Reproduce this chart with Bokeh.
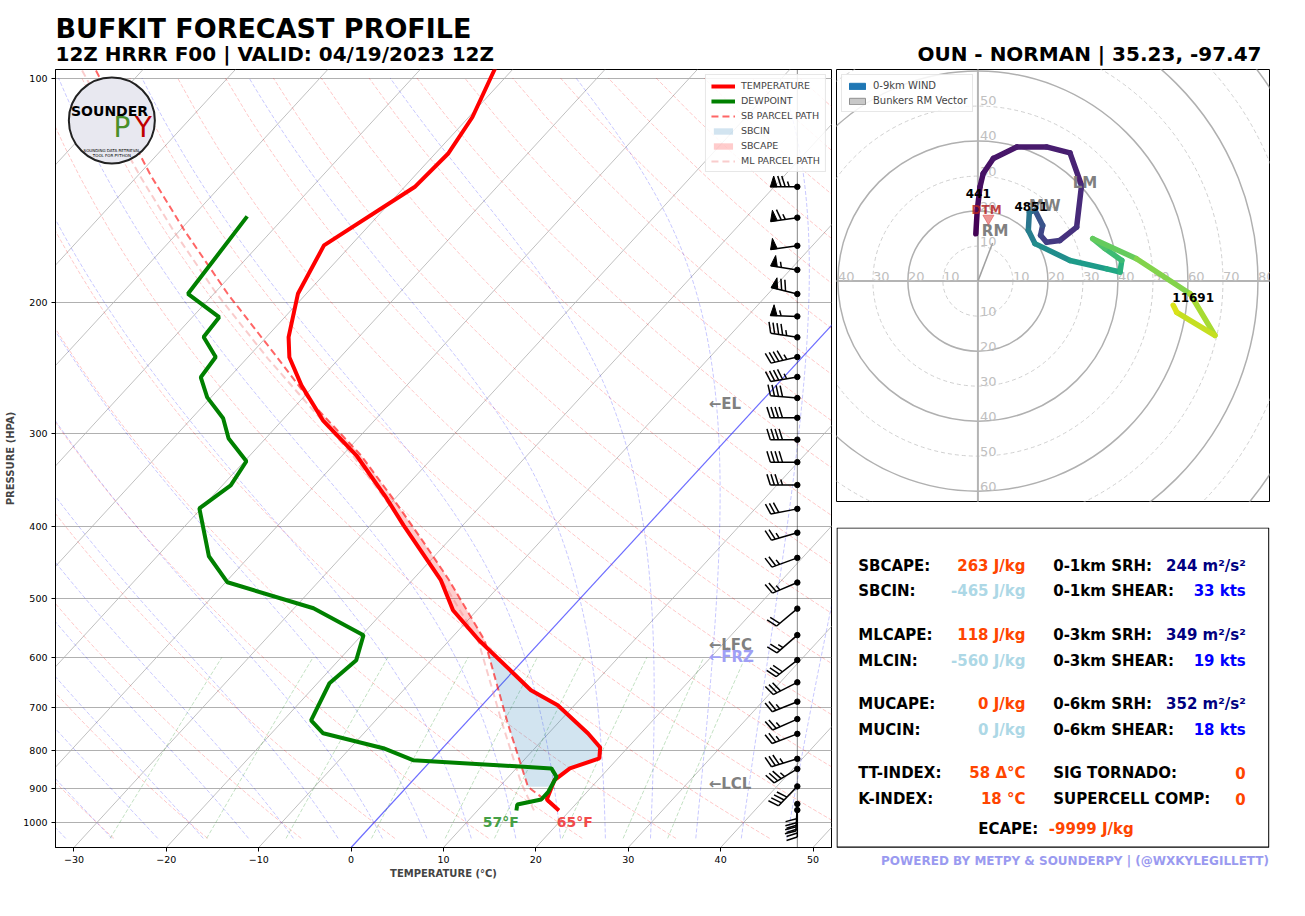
import numpy as np
from bokeh.plotting import figure
from bokeh.layouts import row, column
from bokeh.models import (Range1d, FixedTicker, Legend, LegendItem, BasicTickFormatter,
                          CustomJSTickFormatter)
from bokeh.core.properties import value
from bokeh.embed import file_html
from bokeh.resources import INLINE
from bokeh.palettes import Viridis256

FONT = "DejaVu Sans"

# ---------------- sounding data ----------------
temp_p = [92.0, 97.7, 112.9, 126.4, 140.1, 167.8, 194.9, 222.8, 237.2, 258.7, 288.2,
          321.1, 365.7, 398.8, 472.6, 518.5, 568.9, 664.0, 695.6, 759.1, 792.6,
          820.0, 845.6, 877.0, 931.0, 963.0]
temp_c = [-62.9, -61.9, -59.6, -58.6, -58.9, -62.9, -60.9, -57.6, -55.5, -51.4, -45.6,
          -38.5, -31.1, -26.4, -16.9, -12.6, -6.8, 3.8, 8.2, 14.3, 17.0,
          18.0, 15.8, 15.3, 16.4, 18.8]

dew_p = [153.4, 194.9, 209.5, 222.8, 237.0, 252.3, 268.5, 286.4, 304.8, 327.1, 352.4,
         378.4, 438.8, 475.6, 515.4, 560.2, 605.1, 649.9, 728.8, 758.6, 794.5, 824.3,
         845.6, 868.0, 909.2, 931.0, 945.4, 963.0]
dew_c = [-74.1, -72.8, -67.1, -66.8, -63.5, -63.1, -60.4, -56.6, -54.0, -49.8, -49.1,
         -50.2, -44.4, -39.8, -27.9, -19.8, -18.1, -18.7, -17.0, -14.4, -6.4, -2.0,
         13.8, 15.2, 15.8, 15.8, 13.7, 14.2]

sb_parcel_p = [97.7, 135.2, 160.2, 194.9, 238.1, 274.6, 321.1, 369.1, 417.6, 472.6,
               568.9, 735.9, 895.2, 963.0]
sb_parcel_c = [-105.0, -88.6, -79.5, -68.5, -56.6, -48.2, -38.0, -29.9, -22.9, -16.0,
               -6.2, 4.6, 13.1, 18.8]

ml_parcel_p = [97.7, 135.2, 160.2, 194.9, 238.1, 321.1, 369.1, 472.6, 568.9, 735.9,
               885.0, 963.0]
ml_parcel_c = [-106.5, -89.8, -80.7, -69.7, -57.7, -38.9, -30.8, -16.8, -6.9, 4.0,
               12.0, 16.1]

# wind barbs: pressure (hPa), speed (kt), direction (deg)
barb_p = [140, 154, 168, 181, 195, 209, 223, 237, 252, 269, 286, 306, 328, 352, 379,
          408, 441, 476, 516, 560, 605, 648, 688, 726, 760, 821, 847, 894, 944, 962]
barb_spd = [75, 65, 50, 55, 70, 55, 45, 45, 45, 40, 40, 40, 40, 35, 30,
            25, 25, 25, 20, 25, 30, 30, 25, 25, 25, 35, 35, 40, 40, 40]
barb_dir = [270, 262, 262, 279, 284, 272, 279, 257, 260, 275, 270, 270, 270, 270, 259,
            254, 250, 247, 230, 229, 232, 243, 248, 246, 249, 253, 239, 224, 183, 180]

# levels
lvl_names = ["\u2190EL", "\u2190LFC", "\u2190FRZ", "\u2190LCL"]
lvl_p = [274.4, 576.5, 598.3, 888.8]
lvl_colors = ["#808080", "#808080", "#9f9ff5", "#808080"]

sfc_labels = ["57\u00b0F", "65\u00b0F"]
sfc_label_x = [16.2, 24.2]
sfc_label_colors = ["#45a045", "#f24a4a"]

# hodograph (kt) and heights (m)
hodo_u = [-0.6, -0.2, 0.6, 1.5, 4.4, 11.1, 19.6, 26.3, 29.6, 28.2, 23.4, 19.6, 17.9, 18.5,
          16.3, 14.7, 14.4, 16.3, 26.3, 36.8, 40.6, 41.1, 36.3, 32.8, 45.3, 60.6, 67.7,
          56.8, 55.8]
hodo_v = [13.5, 20.2, 26.9, 30.7, 35.0, 38.3, 38.3, 36.6, 27.3, 15.4, 11.6, 11.1, 13.1,
          15.9, 20.2, 19.7, 14.5, 10.7, 5.9, 3.5, 2.6, 5.9, 9.3, 12.1, 6.4, -3.6, -15.5,
          -8.9, -6.9]
hodo_hgt = [0, 200, 441, 550, 700, 850, 1000, 1150, 1400, 1700, 2000, 2300, 2600, 3000,
            3800, 4851, 5300, 6000, 6800, 7500, 8000, 8700, 9200, 9600, 10300, 11000,
            11691, 12100, 12500]
hgt_labels = ["441", "4851", "11691"]
hgt_label_u = [0.1, 15.2, 61.5]
hgt_label_v = [25.1, 21.4, -4.6]
storm_labels = ["RM", "LM", "MW"]
storm_u = [4.9, 30.6, 19.1]
storm_v = [14.3, 28.0, 21.4]
rm_vec = (4.2, 10.9)
dtm_uv = (2.5, 20.2)
dtm_marker_uv = (3.0, 17.9)

# parameter table
left_labels = ["SBCAPE:", "SBCIN:", "MLCAPE:", "MLCIN:", "MUCAPE:", "MUCIN:",
               "TT-INDEX:", "K-INDEX:"]
left_values = ["263 J/kg", "-465 J/kg", "118 J/kg", "-560 J/kg", "0 J/kg", "0 J/kg",
               "58 \u0394\u00b0C", "18 \u00b0C"]
left_colors = ["#ff4500", "#add8e6", "#ff4500", "#add8e6", "#ff4500", "#add8e6",
               "#ff4500", "#ff4500"]
right_labels = ["0-1km SRH:", "0-1km SHEAR:", "0-3km SRH:", "0-3km SHEAR:",
                "0-6km SRH:", "0-6km SHEAR:", "SIG TORNADO:", "SUPERCELL COMP:"]
right_values = ["244 m\u00b2/s\u00b2", "33 kts", "349 m\u00b2/s\u00b2", "19 kts",
                "352 m\u00b2/s\u00b2", "18 kts", "0", "0"]
right_colors = ["#000080", "#0000ff", "#000080", "#0000ff", "#000080", "#0000ff",
                "#ff4500", "#ff4500"]
ecape_value = "-9999 J/kg"

title_main = "BUFKIT FORECAST PROFILE"
title_sub = "12Z HRRR F00 | VALID: 04/19/2023 12Z"
title_right = "OUN - NORMAN | 35.23, -97.47"
footer = "POWERED BY METPY & SOUNDERPY | (@WXKYLEGILLETT)"

t_ticks = [-30, -20, -10, 0, 10, 20, 30, 40, 50]
p_ticks = [100, 200, 300, 400, 500, 600, 700, 800, 900, 1000]

# ---------------- skew-T geometry ----------------
P_BOT, P_TOP = 1080.0, 97.4
T_MIN, T_MAX = -32.0, 52.0
FRAME_W, FRAME_H = 776, 778
XPPU = FRAME_W / (T_MAX - T_MIN)
YPPD = FRAME_H / np.log10(P_BOT / P_TOP)
K_SKEW = 0.92 * YPPD / XPPU
BARB_X = 48.3


def sk(T, p):
    return np.asarray(T, float) + K_SKEW * np.log10(P_BOT / np.asarray(p, float))


# ---------------- title strip ----------------
p0 = figure(width=1305, height=68, x_range=Range1d(0, 1305), y_range=Range1d(0, 68),
            x_axis_type=None, y_axis_type=None, toolbar_location=None,
            output_backend="svg", min_border=0, outline_line_color=None)
p0.text(x=[55], y=[40.5], text=[title_main], text_font=value(FONT), text_font_style="bold",
        text_font_size="27px", text_baseline="middle", text_align="left", text_color="black")
p0.text(x=[55], y=[14.3], text=[title_sub], text_font=value(FONT), text_font_style="bold",
        text_font_size="20px", text_baseline="middle", text_align="left", text_color="black")
p0.text(x=[1261], y=[14.2], text=[title_right], text_font=value(FONT), text_font_style="bold",
        text_font_size="20px", text_baseline="middle", text_align="right", text_color="black")

# ---------------- skew-T ----------------
p1 = figure(width=836, height=848, x_range=Range1d(T_MIN, T_MAX),
            y_range=Range1d(P_BOT, P_TOP), y_axis_type="log", toolbar_location=None,
            output_backend="svg", min_border_left=55, min_border_right=5,
            min_border_top=1, min_border_bottom=69)
p1.background_fill_color = "white"
p1.outline_line_color = "black"
p1.outline_line_alpha = 1
p1.xgrid.visible = False
p1.yaxis.ticker = FixedTicker(ticks=p_ticks)
p1.yaxis.formatter = BasicTickFormatter(use_scientific=False)
p1.xaxis.ticker = FixedTicker(ticks=t_ticks)
p1.xaxis.formatter = CustomJSTickFormatter(
    code="return tick < 0 ? '\u2212' + Math.abs(tick) : String(tick);")
p1.ygrid.grid_line_color = "#b0b0b0"
p1.ygrid.grid_line_width = 1
for ax in (p1.xaxis[0], p1.yaxis[0]):
    ax.major_label_text_font = FONT
    ax.major_label_text_font_size = "9.5px"
    ax.major_label_text_color = "black"
    ax.axis_line_color = "black"
    ax.major_tick_line_color = "black"
    ax.major_tick_out = 4
    ax.major_tick_in = 0
    ax.minor_tick_line_color = None
    ax.major_label_standoff = 4
    ax.axis_label_text_font = FONT
    ax.axis_label_text_font_style = "bold"
    ax.axis_label_text_font_size = "10px"
    ax.axis_label_standoff = 4
p1.xaxis.axis_label_standoff = 2
p1.xaxis.axis_label = "TEMPERATURE (\u00b0C)"
p1.yaxis.axis_label = "PRESSURE (HPA)"

# isotherms
iso_T = [t for t in range(-130, 60, 10) if t != 0]
p1.multi_line(xs=[list(sk([t, t], [P_BOT, P_TOP])) for t in iso_T],
              ys=[[P_BOT, P_TOP] for _ in iso_T], line_color="#b0b0b0", line_width=0.8)
p1.line(x=sk([0, 0], [P_BOT, P_TOP]), y=[P_BOT, P_TOP], line_color="#3b3bff",
        line_width=1.2, line_alpha=0.75)

# dry adiabats
pbg = np.linspace(1050, 100, 80)
dry_th = np.arange(233.15, 533.2, 10.0)
p1.multi_line(xs=[list(sk(th * (pbg / 1000.0) ** 0.2857 - 273.15, pbg)) for th in dry_th],
              ys=[list(pbg)] * len(dry_th), line_color="red", line_alpha=0.28,
              line_width=0.8, line_dash="4 2")


# moist adiabats (RK4 in ln p from 1000 hPa)
def moist_lines(t0K, pgrid_up, pgrid_dn):
    Rd, Cp, Lv, eps = 287.04749, 1005.7, 2.501e6, 0.622

    def f(T, pp):
        es = 6.112 * np.exp(17.67 * (T - 273.15) / (T - 29.65))
        rs = eps * es / (pp - es)
        return (Rd * T + Lv * rs) / (Cp + Lv * Lv * rs * eps / (Rd * T * T))

    def integ(pg):
        T = np.array(t0K, float)
        out = [T.copy()]
        lnp = np.log(pg)
        for i in range(1, len(pg)):
            h = lnp[i] - lnp[i - 1]
            pa = pg[i - 1]
            pm = np.exp(lnp[i - 1] + h / 2)
            pb = pg[i]
            k1 = f(T, pa)
            k2 = f(T + h * k1 / 2, pm)
            k3 = f(T + h * k2 / 2, pm)
            k4 = f(T + h * k3, pb)
            T = T + h * (k1 + 2 * k2 + 2 * k3 + k4) / 6
            out.append(T.copy())
        return np.array(out)

    return integ(pgrid_up), integ(pgrid_dn)


p_up = np.geomspace(1000, 100, 90)
p_dn = np.geomspace(1000, 1050, 6)
moist_t0 = np.arange(233.15, 320.2, 5.0)
up, dn = moist_lines(moist_t0, p_up, p_dn)
mx, my = [], []
for j in range(len(moist_t0)):
    pp = np.concatenate([p_dn[::-1], p_up[1:]])
    tt = np.concatenate([dn[::-1, j], up[1:, j]]) - 273.15
    mx.append(list(sk(tt, pp)))
    my.append(list(pp))
p1.multi_line(xs=mx, ys=my, line_color="blue", line_alpha=0.28, line_width=0.8,
              line_dash="4 2")

# mixing ratio lines
mix_w = [0.0004, 0.001, 0.002, 0.004, 0.007, 0.01, 0.016, 0.024, 0.032]
pmx = np.linspace(1050, 600, 20)
wx = []
for w in mix_w:
    e = w * pmx / (0.622 + w)
    lg = np.log(e / 6.112)
    td = 243.5 * lg / (17.67 - lg)
    wx.append(list(sk(td, pmx)))
p1.multi_line(xs=wx, ys=[list(pmx)] * len(mix_w), line_color="green", line_alpha=0.3,
              line_width=0.8, line_dash="4 2")

# CAPE / CIN shading
pg = np.geomspace(895.2, 240, 500)
env_g = np.interp(np.log(pg), np.log(temp_p), temp_c)
par_g = np.interp(np.log(pg), np.log(sb_parcel_p), sb_parcel_c)
env_s = sk(env_g, pg)
par_s = sk(par_g, pg)
diff = par_g - env_g
lfc_i = int(np.argmax(diff > 0))
cin_m = np.arange(len(pg)) <= lfc_i
cape_m = np.arange(len(pg)) >= lfc_i - 1
r_cin = p1.harea(x1=np.minimum(par_s, env_s)[cin_m], x2=env_s[cin_m], y=pg[cin_m],
                 fill_color="#1f77b4", fill_alpha=0.2)
r_cape = p1.harea(x1=env_s[cape_m], x2=np.maximum(par_s, env_s)[cape_m], y=pg[cape_m],
                  fill_color="red", fill_alpha=0.2)

# profiles
r_ml = p1.line(x=sk(ml_parcel_c, ml_parcel_p), y=ml_parcel_p, line_color="#f08080",
               line_alpha=0.4, line_width=2, line_dash="7 4")
r_sb = p1.line(x=sk(sb_parcel_c, sb_parcel_p), y=sb_parcel_p, line_color="red",
               line_alpha=0.6, line_width=2, line_dash="7 4")
r_t = p1.line(x=sk(temp_c, temp_p), y=temp_p, line_color="red", line_width=4)
r_td = p1.line(x=sk(dew_c, dew_p), y=dew_p, line_color="green", line_width=4)


# wind barbs
def barb_parts(x0, p0, spd, ddeg, L=27.0):
    th = np.deg2rad(ddeg)
    d = np.array([np.sin(th), np.cos(th)])
    n = np.array([d[1], -d[0]])

    def pt(a, b):
        v = a * d + b * n
        return x0 + v[0] / XPPU, p0 * 10 ** (-v[1] / YPPD)

    lines, polys = [], []
    lines.append([pt(0, 0), pt(L, 0)])
    fh, fw, sp = 0.4 * L, 0.25 * L, 0.15 * L
    s = int(5 * round(spd / 5.0))
    nflag, rem = divmod(s, 50)
    nfull, rem = divmod(rem, 10)
    half = rem >= 5
    off = L
    for _ in range(nflag):
        if off != L:
            off += sp / 2
        polys.append([pt(off, 0), pt(off - fw / 2, fh), pt(off - fw, 0)])
        off -= fw + sp
    for _ in range(nfull):
        lines.append([pt(off, 0), pt(off + fw / 2, fh)])
        off -= sp
    if half:
        if off == L:
            off -= 1.5 * sp
        lines.append([pt(off, 0), pt(off + fw / 4, fh / 2)])
    return lines, polys


bl_x, bl_y, bp_x, bp_y = [], [], [], []
for pp, ss, dd in zip(barb_p, barb_spd, barb_dir):
    ls, ps = barb_parts(BARB_X, pp, ss, dd)
    for seg in ls:
        bl_x.append([q[0] for q in seg])
        bl_y.append([q[1] for q in seg])
    for poly in ps:
        bp_x.append([q[0] for q in poly])
        bp_y.append([q[1] for q in poly])
p1.line(x=[BARB_X, BARB_X], y=[P_BOT, P_TOP], line_color="black", line_width=0.8,
        line_alpha=0.6)
p1.multi_line(xs=bl_x, ys=bl_y, line_color="black", line_width=1.5)
p1.patches(xs=bp_x, ys=bp_y, fill_color="black", line_color="black", line_width=1)
p1.scatter(x=[BARB_X] * len(barb_p), y=barb_p, size=5.5, color="black")

# level labels
p1.text(x=[38.7] * len(lvl_p), y=lvl_p, text=lvl_names, text_color=lvl_colors,
        text_font=value(FONT), text_font_style="bold", text_font_size="15px",
        text_baseline="middle", text_align="left")
p1.text(x=sfc_label_x, y=[996.6, 996.6], text=sfc_labels, text_color=sfc_label_colors,
        text_font=value(FONT), text_font_style="bold", text_font_size="14px",
        text_baseline="middle", text_align="center")

# logo (decoration)
p1.scatter(x=[-25.9], y=[114.0], size=86, fill_color="#e8e8f0", line_color="#222222",
           line_width=2)
p1.text(x=[-26.15], y=[110.8], text=["SOUNDER"], text_font=value(FONT),
        text_font_style="bold", text_font_size="14px", text_align="center",
        text_baseline="middle", text_color="black")
p1.text(x=[-24.8, -22.5], y=[116.5, 116.5], text=["P", "Y"],
        text_font=value(FONT), text_font_size="28px", text_align="center",
        text_baseline="middle", text_color=["#4a8f2a", "#c00000"])
p1.text(x=[-25.9, -25.9], y=[125.0, 127.2],
        text=["SOUNDING DATA RETRIEVAL", "TOOL FOR PYTHON"], text_font=value(FONT),
        text_font_size="4px", text_align="center", text_baseline="middle",
        text_color="black")

leg1 = Legend(items=[LegendItem(label="TEMPERATURE", renderers=[r_t]),
                     LegendItem(label="DEWPOINT", renderers=[r_td]),
                     LegendItem(label="SB PARCEL PATH", renderers=[r_sb]),
                     LegendItem(label="SBCIN", renderers=[r_cin]),
                     LegendItem(label="SBCAPE", renderers=[r_cape]),
                     LegendItem(label="ML PARCEL PATH", renderers=[r_ml])],
              location="top_right", label_text_font=FONT, label_text_font_size="9.5px",
              glyph_width=24, glyph_height=8, label_height=10, spacing=4, padding=5,
              margin=5, label_standoff=6, border_line_color="#d0d0d0",
              background_fill_alpha=0.85)
p1.add_layout(leg1)

# ---------------- hodograph ----------------
p2 = figure(width=469, height=459, x_range=Range1d(-40.4, 83.3),
            y_range=Range1d(-62.9, 60.4), x_axis_type=None, y_axis_type=None,
            toolbar_location=None, output_backend="svg", min_border_left=0,
            min_border_right=36, min_border_top=1, min_border_bottom=26)
p2.outline_line_color = "black"
p2.outline_line_alpha = 1
rings_solid = [20, 40, 60, 80, 100]
rings_dash = [10, 30, 50, 70, 90]
p2.circle(x=[0] * len(rings_dash), y=[0] * len(rings_dash), radius=rings_dash,
          fill_color=None, line_color="#d0d0d0", line_width=1, line_dash="4 3")
p2.circle(x=[0] * len(rings_solid), y=[0] * len(rings_solid), radius=rings_solid,
          fill_color=None, line_color="#b0b0b0", line_width=1.5)
p2.line(x=[-60, 100], y=[0, 0], line_color="#b4b4b4", line_width=2)
p2.line(x=[0, 0], y=[-80, 80], line_color="#b4b4b4", line_width=2)
xr = [-40, -30, -20, -10, 10, 20, 30, 40, 50, 60, 70, 80]
p2.text(x=xr, y=[0] * len(xr), text=[str(abs(v)) for v in xr], text_color="#c0c0c0",
        text_font=value(FONT), text_font_size="13px", text_align="left",
        text_baseline="middle", y_offset=-5)
yr = [50, 40, 30, 20, 10, -10, -20, -30, -40, -50, -60]
p2.text(x=[0] * len(yr), y=yr, text=[str(abs(v)) for v in yr], text_color="#c0c0c0",
        text_font=value(FONT), text_font_size="13px", text_align="left",
        text_baseline="middle", x_offset=2, y_offset=-5)
p2.line(x=[0, rm_vec[0]], y=[0, rm_vec[1]], line_color="#a0a0a0", line_width=1.5)

hmax = 13000.0
seg_x = [[hodo_u[i], hodo_u[i + 1]] for i in range(len(hodo_u) - 1)]
seg_y = [[hodo_v[i], hodo_v[i + 1]] for i in range(len(hodo_v) - 1)]
seg_c = [Viridis256[min(255, int(255 * 0.5 * (hodo_hgt[i] + hodo_hgt[i + 1]) / hmax))]
         for i in range(len(hodo_hgt) - 1)]
p2.multi_line(xs=seg_x, ys=seg_y, line_color=seg_c, line_width=5.5, line_cap="round")

p2.text(x=storm_u, y=storm_v, text=storm_labels, text_color="#808080",
        text_font=value(FONT), text_font_style="bold", text_font_size="15px",
        text_align="center", text_baseline="middle")
p2.scatter(x=[dtm_marker_uv[0]], y=[dtm_marker_uv[1]], marker="inverted_triangle", size=11,
           fill_color="#e05050", fill_alpha=0.6, line_color="#e05050", line_alpha=0.6)
p2.text(x=[dtm_uv[0]], y=[dtm_uv[1]], text=["DTM"], text_color="#b22222", text_alpha=0.85,
        text_font=value(FONT), text_font_style="bold", text_font_size="12px",
        text_align="center", text_baseline="middle")
p2.text(x=hgt_label_u, y=hgt_label_v, text=hgt_labels, text_color="black",
        text_font=value(FONT), text_font_style="bold", text_font_size="12px",
        text_align="center", text_baseline="middle")

# legend swatches (kept outside the visible range)
leg_w = p2.quad(left=[900], right=[901], top=[901], bottom=[900], fill_color="#1f77b4",
                line_color="#1f77b4")
leg_r = p2.quad(left=[900], right=[901], top=[901], bottom=[900], fill_color="#c8c8c8",
                line_color="#909090")
leg2 = Legend(items=[LegendItem(label="0-9km WIND", renderers=[leg_w]),
                     LegendItem(label="Bunkers RM Vector", renderers=[leg_r])],
              location="top_left", label_text_font=FONT, label_text_font_size="10px",
              glyph_width=20, glyph_height=8, label_height=10, spacing=4, padding=5,
              margin=5, label_standoff=6, border_line_color="#d0d0d0",
              background_fill_alpha=0.85)
p2.add_layout(leg2)

# ---------------- parameter panel ----------------
p3 = figure(width=469, height=389, x_range=Range1d(0, 433), y_range=Range1d(0, 389),
            x_axis_type=None, y_axis_type=None, toolbar_location=None,
            output_backend="svg", min_border_left=0, min_border_right=36,
            min_border_top=0, min_border_bottom=0, outline_line_color=None)
p3.quad(left=[0.5], right=[432.3], bottom=[69.3], top=[388.5], fill_color=None,
        line_color="black", line_width=1.2)
row_y = [350.3, 325.3, 281.7, 255.7, 212.7, 186.7, 144.0, 118.0]
p3.text(x=[21.7] * 8, y=row_y, text=left_labels, text_color="black", text_font=value(FONT),
        text_font_style="bold", text_font_size="15px", text_align="left",
        text_baseline="middle")
p3.text(x=[189.0] * 8, y=row_y, text=left_values, text_color=left_colors,
        text_font=value(FONT), text_font_style="bold", text_font_size="15px",
        text_align="right", text_baseline="middle")
p3.text(x=[216.7] * 8, y=row_y, text=right_labels, text_color="black", text_font=value(FONT),
        text_font_style="bold", text_font_size="15px", text_align="left",
        text_baseline="middle")
p3.text(x=[409.3] * 8, y=row_y, text=right_values, text_color=right_colors,
        text_font=value(FONT), text_font_style="bold", text_font_size="15px",
        text_align="right", text_baseline="middle")
p3.text(x=[141.7, 212.3], y=[87.7, 87.7], text=["ECAPE:", ecape_value],
        text_color=["black", "#ff4500"], text_font=value(FONT), text_font_style="bold",
        text_font_size="15px", text_align="left", text_baseline="middle")
p3.text(x=[432.5], y=[56.0], text=[footer], text_color="#9a9af0", text_font=value(FONT),
        text_font_style="bold", text_font_size="12px", text_align="right",
        text_baseline="middle")

layout = column(p0, row(p1, column(p2, p3)))
open("out.html", "w").write(file_html(layout, INLINE))
